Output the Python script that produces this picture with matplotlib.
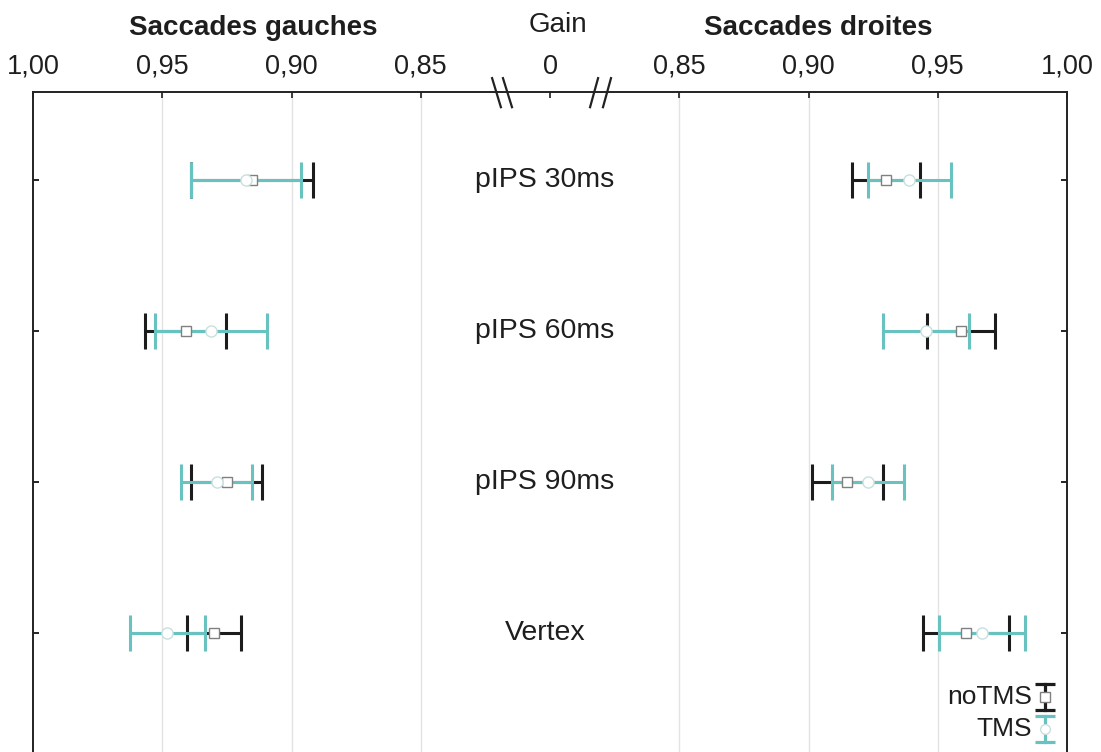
import matplotlib
matplotlib.use('Agg')
import matplotlib.pyplot as plt
import matplotlib.transforms as mtransforms

plt.rcParams['font.family'] = ['Liberation Sans', 'DejaVu Sans']

# donnees : gain moyen et demi-largeur des barres d'erreur
conditions = ['pIPS 30ms', 'pIPS 60ms', 'pIPS 90ms', 'Vertex']

gauche_notms = [0.9153, 0.941, 0.925, 0.930]
gauche_notms_err = [0.0235, 0.0155, 0.0137, 0.0103]
gauche_tms = [0.9176, 0.931, 0.929, 0.948]
gauche_tms_err = [0.0212, 0.0217, 0.0137, 0.0145]

droite_notms = [0.930, 0.959, 0.915, 0.961]
droite_notms_err = [0.0130, 0.0132, 0.0137, 0.0166]
droite_tms = [0.939, 0.9455, 0.923, 0.967]
droite_tms_err = [0.0161, 0.0166, 0.0139, 0.0166]

tick_gain = [1.00, 0.95, 0.90, 0.85]

noir = '#1c1c1c'
turq = '#68c3c0'
origine = 0.80   # les deux demi-axes partent de 0,80 (coupure au centre)


def pos_gauche(vals):
    return [-(v - origine) for v in vals]


def pos_droite(vals):
    return [v - origine for v in vals]


fig = plt.figure(figsize=(11.01, 7.52), dpi=100)
ax = fig.add_axes([33 / 1101, 0, 1034 / 1101, 660 / 752])

y = list(range(len(conditions)))

# barres d'erreur : noTMS en dessous, TMS au dessus
for xs, errs, col in [(pos_gauche(gauche_notms), gauche_notms_err, noir),
                      (pos_droite(droite_notms), droite_notms_err, noir),
                      (pos_gauche(gauche_tms), gauche_tms_err, turq),
                      (pos_droite(droite_tms), droite_tms_err, turq)]:
    ax.errorbar(xs, y, xerr=errs, fmt='none', ecolor=col, elinewidth=2.2,
                capsize=13, capthick=2.2, zorder=3)

# moyennes
ax.plot(pos_gauche(gauche_notms) + pos_droite(droite_notms), y + y, 's',
        ms=6.5, mfc='white', mec='#808080', mew=1, zorder=5)
ax.plot(pos_gauche(gauche_tms) + pos_droite(droite_tms), y + y, 'o',
        ms=8, mfc='white', mec='#c9dfde', mew=1, zorder=5)

for i, lab in enumerate(conditions):
    ax.text(-0.002, i, lab, ha='center', va='center', fontsize=20.5, color='#1e1e1e')

# axe x en haut
ticks = [-(g - origine) for g in tick_gain] + [0] + [g - origine for g in tick_gain[::-1]]
labels = [f'{g:.2f}'.replace('.', ',') for g in tick_gain] + ['0'] + \
         [f'{g:.2f}'.replace('.', ',') for g in tick_gain[::-1]]
ax.set_xticks(ticks)
ax.set_xticklabels(labels)
ax.set_yticks(y)
ax.set_xlim(-0.20, 0.20)
ax.set_ylim(3.788, -0.583)
ax.xaxis.tick_top()
ax.tick_params(axis='x', direction='in', length=4, width=1.2, labelsize=19.5,
               pad=9, colors='#1e1e1e')
ax.tick_params(axis='y', direction='in', length=4, width=1.2, left=True,
               right=True, labelleft=False)

for t in ticks:
    if t != 0 and abs(t) < 0.199:
        ax.axvline(t, color='#e3e3e3', lw=1, zorder=0)

for s in ['top', 'left', 'right']:
    ax.spines[s].set_linewidth(1.4)
    ax.spines[s].set_color('#222222')
ax.spines['bottom'].set_visible(False)

# marques de coupure
trans = mtransforms.blended_transform_factory(ax.transData, ax.transAxes)
for x0, x1 in [(-0.0224, -0.0190), (-0.0182, -0.0147),
               (0.0186, 0.0155), (0.0236, 0.0205)]:
    ax.plot([x0, x1], [1.021, 0.977], color='#222222', lw=1.6,
            transform=trans, clip_on=False, zorder=6)

# titres
fig.text(253 / 1101, 1 - 28 / 752, 'Saccades gauches', ha='center', va='center',
         fontsize=20, fontweight='bold', color='#1e1e1e')
fig.text(558 / 1101, 1 - 25 / 752, 'Gain', ha='center', va='center',
         fontsize=20, color='#1e1e1e')
fig.text(818 / 1101, 1 - 28 / 752, 'Saccades droites', ha='center', va='center',
         fontsize=20, fontweight='bold', color='#1e1e1e')

# legende
for (yc, y1, y2), col, mk, mec, lab in [((0.0833, 0.103, 0.0636), noir, 's', '#808080', 'noTMS'),
                                         ((0.0348, 0.0545, 0.0152), turq, 'o', '#c9dfde', 'TMS')]:
    ax.plot([0.9787, 0.9787], [y1, y2], color=col, lw=2.3, transform=ax.transAxes,
            clip_on=False, zorder=6)
    ax.plot([0.9787, 0.9787], [y1, y2], '_', color=col, ms=14, mew=2.3,
            transform=ax.transAxes, clip_on=False, zorder=6)
    ax.plot([0.9787], [yc], mk, ms=7, mfc='white', mec=mec, mew=1,
            transform=ax.transAxes, clip_on=False, zorder=7)
    ax.text(0.966, yc, lab, transform=ax.transAxes, ha='right', va='center',
            fontsize=19, color='#1e1e1e')

fig.savefig('out.png', dpi=100)
